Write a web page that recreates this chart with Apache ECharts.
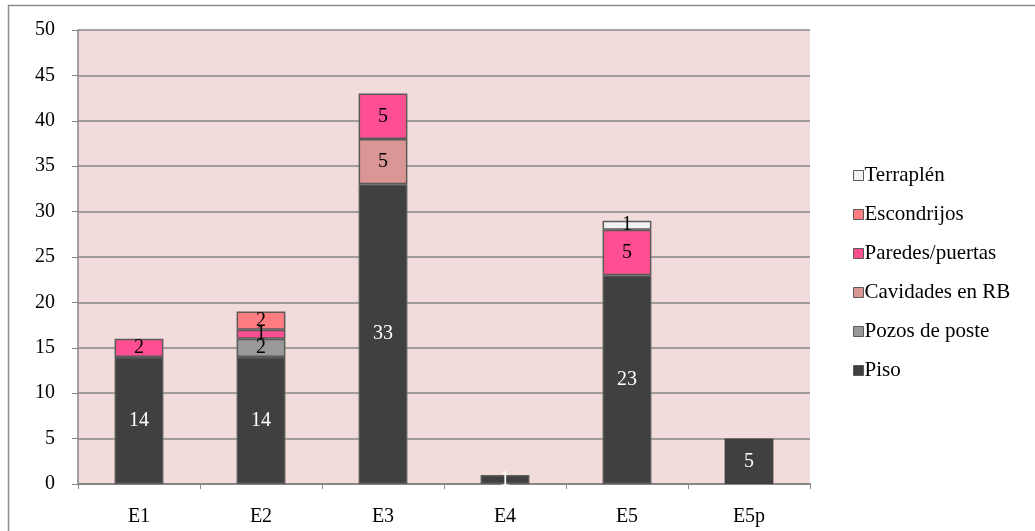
<!DOCTYPE html>
<html><head><meta charset="utf-8">
<script src="https://cdn.jsdelivr.net/npm/echarts@6/dist/echarts.min.js"></script>
<style>html,body{margin:0;padding:0;background:#fff}#c{width:1035px;height:531px}</style>
</head><body><div id="c"></div>
<script>
const categories = ['E1','E2','E3','E4','E5','E5p'];
const piso        = [14, 14, 33, 1, 23, 5];
const pozos       = [null, 2, null, null, null, null];
const cavidades   = [null, null, 5, null, null, null];
const paredes     = [2, 1, 5, null, 5, null];
const escondrijos = [null, 2, null, null, null, null];
const terraplen   = [null, null, null, null, 1, null];
const yTicks = [0,5,10,15,20,25,30,35,40,45,50];

const font = '"Liberation Serif", "Times New Roman", serif';
function mk(name, data, color, labelColor){
  return {
    name, type:'bar', stack:'s', data, barWidth:'40%',
    itemStyle:{color, borderColor:'#5a5a5a', borderWidth:1.5},
    label:{show:true, position:'inside', color:labelColor, fontFamily:font, fontSize:20},
    emphasis:{disabled:true}
  };
}
const pisoSeries = mk('Piso', piso.map((v,i)=> categories[i]==='E5p' ? {value:v, itemStyle:{borderWidth:0}} : v), '#404040', '#fff');
const chart = echarts.init(document.getElementById('c'));
chart.setOption({
  animation:false,
  graphic:[{type:'rect', shape:{x:8.5,y:5.5,width:1100,height:600}, style:{fill:'none', stroke:'#8c8c8c', lineWidth:1.5}, silent:true}],
  grid:{left:78, top:30, right:225, bottom:47, show:true, backgroundColor:'#f2dcdb', borderWidth:0},
  legend:{
    orient:'vertical', left:848, top:160, itemGap:18, itemWidth:10, itemHeight:10,
    icon:'rect',
    data:['Terraplén','Escondrijos','Paredes/puertas','Cavidades en RB','Pozos de poste','Piso'],
    textStyle:{fontFamily:font, fontSize:21, color:'#000', padding:[0,0,0,-4]},
    itemStyle:{borderColor:'#5a5a5a', borderWidth:1}
  },
  xAxis:{type:'category', data:categories,
    axisLine:{lineStyle:{color:'#868686', width:2}},
    axisTick:{show:true, length:5, alignWithLabel:false, lineStyle:{color:'#868686'}},
    axisLabel:{fontFamily:font, fontSize:20, color:'#000', margin:23}
  },
  yAxis:{type:'value', min:0, max:50, interval:5,
    axisLine:{show:true, lineStyle:{color:'#868686', width:1.5}},
    axisTick:{show:true, length:6, lineStyle:{color:'#868686'}},
    splitLine:{lineStyle:{color:'#868686', width:1.5}},
    axisLabel:{fontFamily:font, fontSize:20, color:'#000', margin:23,
      formatter:v=>yTicks.includes(v)?String(v):''}
  },
  series:[
    pisoSeries,
    mk('Pozos de poste', pozos, '#999999', '#000'),
    mk('Cavidades en RB', cavidades, '#d99694', '#000'),
    mk('Paredes/puertas', paredes, '#ff4f93', '#000'),
    mk('Escondrijos', escondrijos, '#ff7c80', '#000'),
    mk('Terraplén', terraplen, '#f2f2f2', '#000')
  ]
});
</script></body></html>
